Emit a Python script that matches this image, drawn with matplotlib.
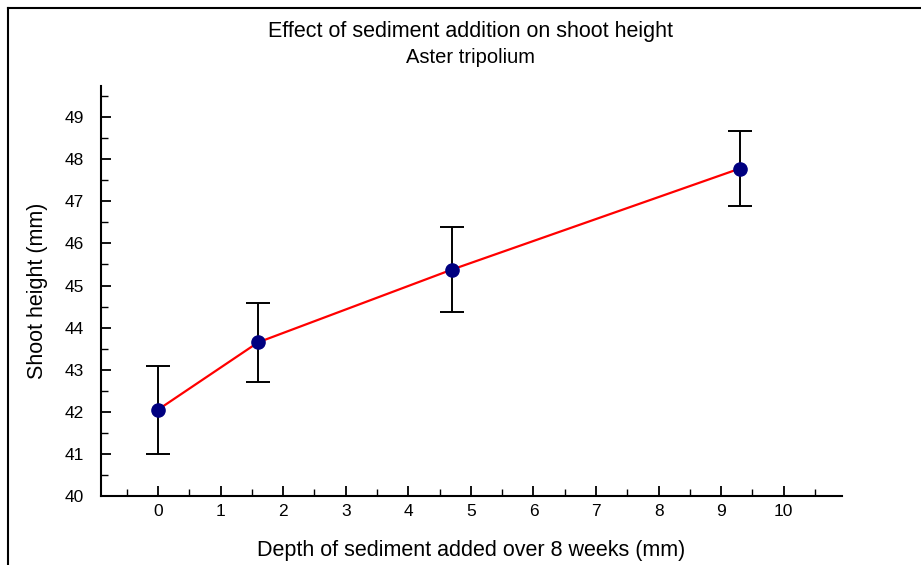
import matplotlib
matplotlib.use("Agg")
import matplotlib.pyplot as plt
from matplotlib.lines import Line2D
from matplotlib.ticker import MultipleLocator

plt.rcParams['font.family'] = ['Liberation Sans', 'DejaVu Sans']

depth = [0, 1.6, 4.7, 9.3]
height = [42.05, 43.65, 45.38, 47.78]
err = [1.05, 0.94, 1.02, 0.9]
xticks = [0, 1, 2, 3, 4, 5, 6, 7, 8, 9, 10]
yticks = [40, 41, 42, 43, 44, 45, 46, 47, 48, 49]

fig = plt.figure(figsize=(9.21, 5.65), dpi=100)
ax = fig.add_axes([0.1097, 0.1221, 0.8045, 0.7257])

ax.errorbar(depth, height, yerr=err, fmt='none', ecolor='black', elinewidth=1.4,
            capsize=8.5, capthick=1.4, zorder=2)
ax.plot(depth, height, color='#ff0000', lw=1.6, zorder=3)
ax.plot(depth, height, 'o', color='#000080', markersize=9.5, zorder=4)

ax.set_xlim(-0.91, 10.93)
ax.set_ylim(40, 49.74)
ax.set_xticks(xticks)
ax.set_yticks(yticks)
ax.xaxis.set_minor_locator(MultipleLocator(0.5))
ax.yaxis.set_minor_locator(MultipleLocator(0.5))
for s in ['top', 'right']:
    ax.spines[s].set_visible(False)
for s in ['left', 'bottom']:
    ax.spines[s].set_linewidth(1.5)
ax.tick_params(axis='both', which='major', direction='in', width=1.3, labelsize=12.5)
ax.tick_params(axis='y', which='major', length=7, pad=12)
ax.tick_params(axis='y', which='minor', direction='in', length=5, width=1.0)
ax.tick_params(axis='x', which='major', length=7, pad=6)
ax.tick_params(axis='x', which='minor', direction='in', length=5, width=1.0)

ax.set_xlabel('Depth of sediment added over 8 weeks (mm)', fontsize=15.5, labelpad=15)
ax.set_ylabel('Shoot height (mm)', fontsize=15.5, labelpad=12)

fig.text(0.511, 0.944, 'Effect of sediment addition on shoot height', ha='center', va='center', fontsize=15.5)
fig.text(0.511, 0.898, 'Aster tripolium', ha='center', va='center', fontsize=14.5)

fig.add_artist(Line2D([8/921, 8/921], [0, 1 - 8/565], transform=fig.transFigure, color='black', lw=1.5))
fig.add_artist(Line2D([8/921, 1], [1 - 8/565, 1 - 8/565], transform=fig.transFigure, color='black', lw=1.5))

fig.savefig('out.png', dpi=100)
